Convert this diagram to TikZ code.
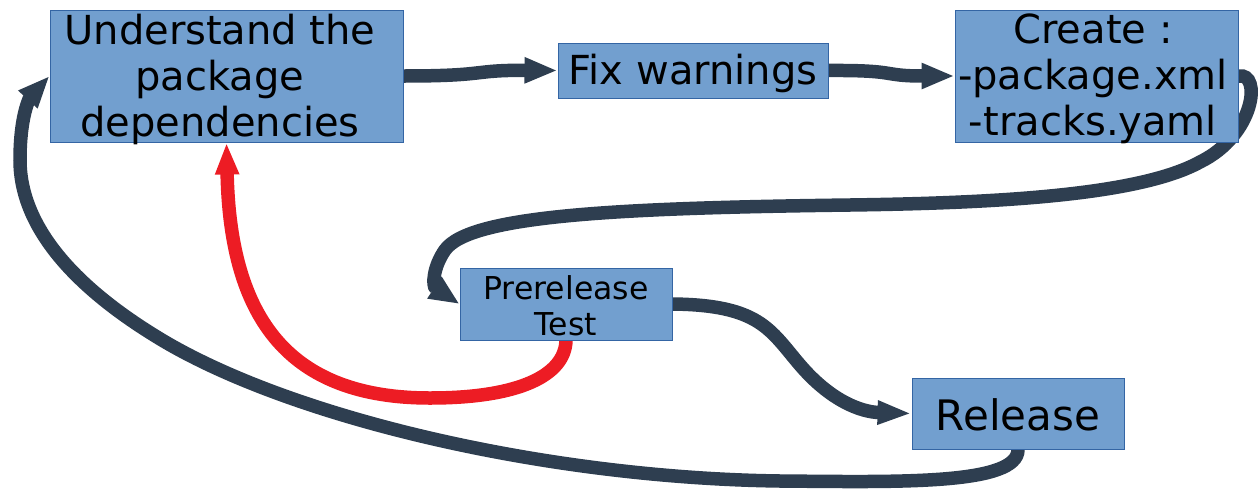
\documentclass[tikz,border=0pt]{standalone}
\usepackage{fontspec}
\setmainfont{DejaVu Sans}
\usetikzlibrary{arrows.meta}
\pgfdeclarelayer{background}
\pgfsetlayers{background,main}
\definecolor{boxfill}{HTML}{729FCF}
\definecolor{boxline}{HTML}{3465A4}
\definecolor{flow}{HTML}{2E3E50}
\definecolor{back}{HTML}{ED1C24}
\begin{document}
\begin{tikzpicture}[x=1pt,y=-1pt,
  stepbox/.style={draw=boxline,fill=boxfill,line width=1pt,inner sep=0pt},
  bigtext/.style={font=\fontsize{40}{46}\selectfont,align=center,inner sep=0pt},
  smalltext/.style={font=\fontsize{31.5}{36}\selectfont,align=center,inner sep=0pt},
  flowline/.style={draw=flow,line width=13.5pt},
  backline/.style={draw=back,line width=13.5pt}]
\useasboundingbox (0,0) rectangle (1260,490);
% boxes
\node[stepbox,minimum width=353pt,minimum height=132pt] (b1) at (226.5,76) {};
\node[stepbox,minimum width=270pt,minimum height=55pt] (b2) at (693,70.5) {};
\node[stepbox,minimum width=283pt,minimum height=132pt] (b3) at (1096.5,76) {};
\node[stepbox,minimum width=212pt,minimum height=72pt] (b4) at (566,304) {};
\node[stepbox,minimum width=212pt,minimum height=71pt] (b5) at (1018,413.5) {};
% texts
\node[bigtext] (t1) at (220,79) {Understand the\\package\\dependencies};
\node[bigtext] (t2) at (693,73) {Fix warnings};
\node[bigtext] (t3) at (1093,79) {Create :\\-package.xml\\-tracks.yaml};
\node[smalltext] (t4) at (566,306) {Prerelease\\Test};
\node[font=\fontsize{42}{46}\selectfont,inner sep=0pt] (t5) at (1018,415) {Release};
% connectors
\begin{pgfonlayer}{background}
\draw[flowline,-{Triangle[length=33pt,width=24pt]}] (b1.east)
  .. controls (490,76) and (470,70) .. (b2.west);
\draw[flowline,-{Triangle[length=33pt,width=24pt]}] (b2.east)
  .. controls (900,70) and (880,76) .. (b3.west);
\draw[flowline,-{Triangle[length=30pt,width=24pt]}] (b3.east)
  .. controls (1262,72) and (1255,135) .. (1200,162)
  .. controls (1140,195) and (1000,203) .. (850,205)
  .. controls (620,208) and (470,215) .. (445,250)
  .. controls (433,267) and (432,286) .. (b4.west);
\draw[flowline,-{Triangle[length=34pt,width=22pt]}] (b4.east)
  .. controls (760,305) and (770,330) .. (800,365)
  .. controls (830,400) and (860,412) .. (b5.west);
\draw[backline,-{Triangle[length=32pt,width=22pt]}] (b4.south)
  .. controls (565,375) and (520,398) .. (430,398)
  .. controls (290,398) and (230,320) .. (b1.south);
\draw[flowline,-{Triangle[length=32pt,width=24pt]}] (b5.south)
  .. controls (1018,485) and (900,482) .. (780,481)
  .. controls (550,478) and (300,420) .. (167,343)
  .. controls (80,292) and (20,230) .. (20,160)
  .. controls (20,110) and (32,95) .. (b1.west);
\end{pgfonlayer}
\end{tikzpicture}
\end{document}
